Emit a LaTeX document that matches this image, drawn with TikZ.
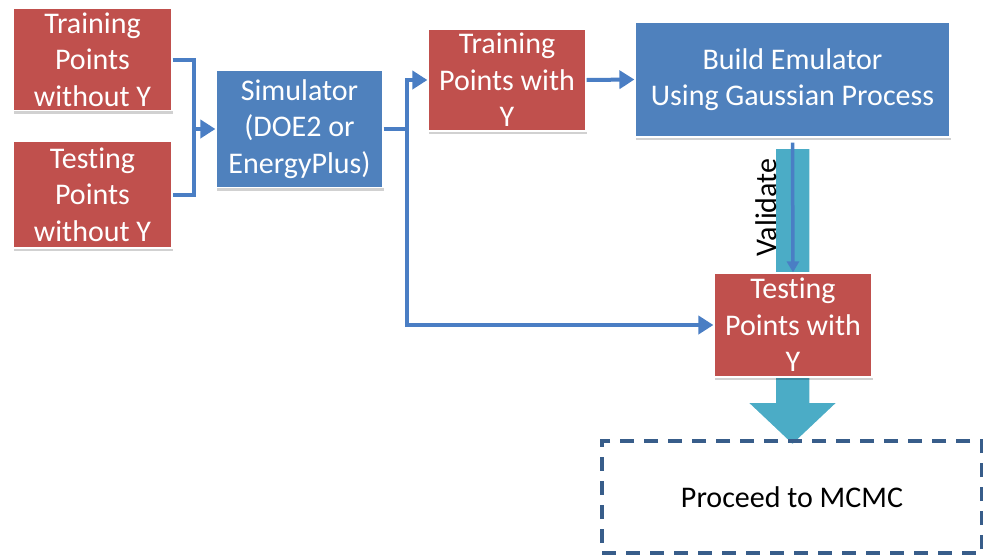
\documentclass[tikz,border=0pt]{standalone}
\usepackage{fontspec}
\setmainfont{Carlito}[Ligatures={NoCommon}]
\usetikzlibrary{arrows.meta,shadows,calc}

\definecolor{boxred}{RGB}{192,80,77}
\definecolor{boxblue}{RGB}{79,129,189}
\definecolor{linkblue}{RGB}{74,126,196}
\definecolor{flowcyan}{RGB}{75,172,198}
\definecolor{dashblue}{RGB}{56,93,138}

\tikzset{
  labelfont/.style={font={\fontsize{30}{36.5}\selectfont}},
  card/.style={rectangle, inner sep=0pt, align=center, text=white,
    draw=white, line width=1.2pt, labelfont,
    drop shadow={shadow xshift=1pt, shadow yshift=-3pt, opacity=0.18, fill=black}},
  redcard/.style={card, fill=boxred},
  bluecard/.style={card, fill=boxblue},
  conn/.style={draw=linkblue, line width=4pt},
  connarrow/.style={conn, -{Triangle[length=15pt,width=18pt]}},
  thinarrow/.style={draw=linkblue, line width=3.5pt, -{Triangle[length=11pt,width=12pt]}},
}

\begin{document}
\begin{tikzpicture}[x=1pt, y=-1pt]
\useasboundingbox (0,0) rectangle (983,555);

% wide flow arrow from the emulator down to the MCMC step
\fill[flowcyan, draw=white, line width=1.5pt]
  (775,148) -- (810,148) -- (810,402) -- (838,402) -- (792.5,445)
  -- (747,402) -- (775,402) -- cycle;

% boxes
\node[redcard, minimum width=159pt, minimum height=102pt] (trn) at (92.5,59.5)
  {Training\\Points\\without Y};
\node[redcard, minimum width=159pt, minimum height=107pt] (tst) at (92.5,194.5)
  {Testing\\Points\\without Y};
\node[bluecard, minimum width=167pt, minimum height=117pt] (sim) at (299.5,129)
  {Simulator\\(DOE2 or\\EnergyPlus)};
\node[redcard, minimum width=158pt, minimum height=102pt] (trw) at (507,80)
  {Training\\Points with\\Y};
\node[bluecard, minimum width=315pt, minimum height=115pt] (bld) at (792.5,79.5)
  {Build Emulator\\Using Gaussian Process};
\node[redcard, minimum width=158pt, minimum height=104pt] (tsw) at (793,325)
  {Testing\\Points with\\Y};

% final step
\node[rectangle, draw=dashblue, line width=4pt, dash pattern=on 14pt off 10pt,
  minimum width=380pt, minimum height=112pt, inner sep=0pt,
  labelfont, text=black] (mcmc) at (792,497)
  {Proceed to MCMC};

% junction points of the connectors, level with the simulator's centre
\coordinate (j) at (sim.west -| 194,0);
\coordinate (k) at (sim.east -| 407,0);

% inputs merged into the simulator
\draw[conn] (trn.east) -- (trn.east -| j) -- (tst.east -| j) -- (tst.east);
\draw[connarrow] (j) -- (sim.west);

% simulator outputs
\draw[conn] (sim.east) -- (k);
\draw[connarrow] ($(k |- tsw.west)+(0,2)$) -- (k |- trw.west) -- (trw.west);
\draw[connarrow] (k) |- (tsw.west);

% emulator construction and validation
\draw[connarrow] (trw.east) -- (bld.west);
\draw[thinarrow] ($(bld.south)+(0,5)$) -- (tsw.north);
\node[rotate=90, labelfont, text=black, inner sep=0pt]
  (val) at (766,207.5) {Validate};
\end{tikzpicture}
\end{document}
